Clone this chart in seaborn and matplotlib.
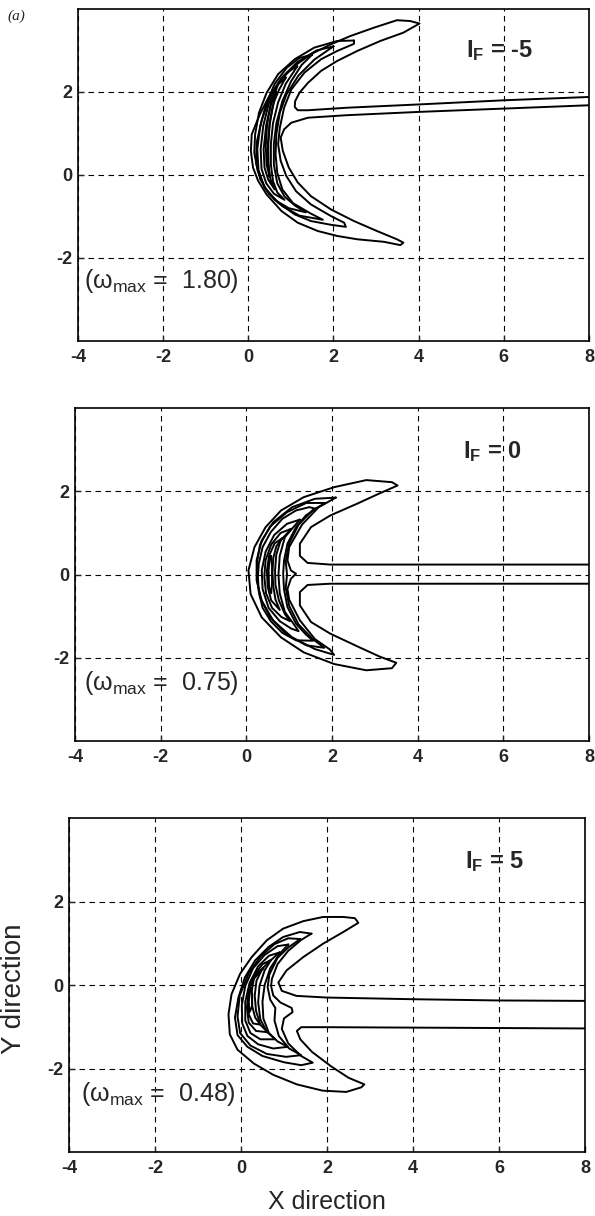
import matplotlib
matplotlib.use("Agg")
import matplotlib.pyplot as plt
import seaborn as sns

sns.set_style("ticks")
plt.rcParams['font.family'] = ['Liberation Sans', 'DejaVu Sans']
plt.rcParams['mathtext.fontset'] = 'custom'
plt.rcParams['mathtext.rm'] = 'Liberation Sans'
plt.rcParams['mathtext.it'] = 'Liberation Sans:italic'
plt.rcParams['mathtext.bf'] = 'Liberation Sans:bold'
plt.rcParams['axes.unicode_minus'] = False

# ---------------- data (contour lines, x/y in plot units) ----------------
x_ticks = [-4, -2, 0, 2, 4, 6, 8]
y_ticks = [-2, 0, 2]
lf_values = ["-5", "0", "5"]
omega_max = ["1.80", "0.75", "0.48"]

# I_F = -5
neg5_c1 = [(8.0, 1.88), (6.0, 1.80), (4.0, 1.70), (2.3, 1.62), (1.40, 1.56), (1.16, 1.56), (1.09, 1.64),
           (1.10, 1.78), (1.20, 1.98), (1.40, 2.22), (1.71, 2.51), (2.09, 2.75), (2.56, 2.99), (3.10, 3.23),
           (3.64, 3.43), (4.02, 3.65), (3.80, 3.71), (3.49, 3.73), (2.95, 3.55), (2.40, 3.35), (1.94, 3.15),
           (1.47, 2.91), (1.09, 2.63), (0.74, 2.27), (0.47, 1.86), (0.27, 1.46), (0.08, 0.98), (0.06, 0.58),
           (0.11, 0.18), (0.23, -0.14), (0.43, -0.47), (0.78, -0.87), (1.16, -1.15), (1.63, -1.35),
           (2.09, -1.47), (2.56, -1.55), (3.18, -1.61), (3.57, -1.69), (3.64, -1.63), (3.49, -1.55),
           (3.02, -1.35), (2.48, -1.11), (1.94, -0.83), (1.47, -0.51), (1.16, -0.18), (0.95, 0.18),
           (0.81, 0.58), (0.76, 0.90), (0.84, 1.10), (1.01, 1.26), (1.40, 1.38), (2.3, 1.44), (4.0, 1.52),
           (6.0, 1.60), (8.0, 1.68)]
neg5_c2 = [(2.48, 3.24), (2.09, 3.23), (1.55, 3.07), (1.09, 2.79), (0.70, 2.43), (0.43, 1.98), (0.25, 1.50),
           (0.16, 0.98), (0.14, 0.54), (0.22, 0.10), (0.39, -0.31), (0.70, -0.67), (1.09, -0.95),
           (1.47, -1.11), (1.94, -1.20), (2.29, -1.25), (2.25, -1.15), (1.94, -0.99), (1.47, -0.71),
           (1.12, -0.39), (0.89, -0.02), (0.76, 0.34), (0.70, 0.74), (0.74, 1.14), (0.84, 1.62),
           (1.01, 2.06), (1.32, 2.47), (1.71, 2.79), (2.09, 2.99), (2.48, 3.16)]
neg5_c2b = [(2.00, 3.10), (1.60, 3.00), (1.15, 2.72), (0.78, 2.34), (0.50, 1.86), (0.32, 1.34), (0.20, 0.80),
            (0.18, 0.30), (0.28, -0.10), (0.48, -0.45), (0.80, -0.75), (1.20, -0.98), (1.75, -1.08),
            (1.45, -0.92), (1.05, -0.68), (0.80, -0.35), (0.68, 0.05), (0.64, 0.50), (0.66, 1.00),
            (0.74, 1.50), (0.90, 1.95), (1.18, 2.40), (1.55, 2.78)]
neg5_c3 = [(1.50, 2.90), (1.20, 2.82), (0.90, 2.58), (0.62, 2.20), (0.42, 1.72), (0.28, 1.18), (0.21, 0.62),
           (0.24, 0.12), (0.38, -0.30), (0.62, -0.60), (0.95, -0.80), (1.35, -0.90), (1.10, -0.74),
           (0.85, -0.52), (0.68, -0.20), (0.60, 0.25), (0.60, 0.75), (0.66, 1.25), (0.80, 1.78),
           (1.00, 2.25), (1.25, 2.65)]
neg5_c4 = [(1.15, 2.62), (0.92, 2.48), (0.68, 2.18), (0.48, 1.72), (0.35, 1.18), (0.29, 0.62), (0.31, 0.15),
           (0.42, -0.20), (0.60, -0.45), (0.85, -0.60), (0.68, -0.42), (0.58, -0.15), (0.53, 0.25),
           (0.53, 0.75), (0.58, 1.25), (0.70, 1.75), (0.88, 2.20)]
neg5_c5 = [(0.88, 2.35), (0.70, 2.18), (0.55, 1.78), (0.42, 1.20), (0.36, 0.62), (0.38, 0.18), (0.47, -0.12),
           (0.62, -0.35), (0.52, -0.10), (0.47, 0.25), (0.46, 0.75), (0.50, 1.25), (0.60, 1.75), (0.72, 2.05)]
neg5_c6 = [(0.65, 2.00), (0.52, 1.70), (0.44, 1.20), (0.41, 0.70), (0.43, 0.25), (0.50, -0.05),
           (0.47, 0.30), (0.47, 0.75), (0.50, 1.20), (0.56, 1.60)]

# I_F = 0
zero_c1 = [(8.0, 0.24), (4.0, 0.24), (1.96, 0.24), (1.43, 0.28), (1.25, 0.45), (1.25, 0.74), (1.51, 1.14),
           (1.96, 1.42), (2.58, 1.70), (3.11, 1.95), (3.53, 2.14), (3.40, 2.22), (2.80, 2.27), (2.05, 2.10),
           (1.34, 1.86), (0.81, 1.54), (0.45, 1.14), (0.19, 0.66), (0.05, 0.10), (0.10, -0.47), (0.36, -1.03),
           (0.81, -1.51), (1.34, -1.87), (2.05, -2.15), (2.80, -2.30), (3.40, -2.25), (3.50, -2.12),
           (3.11, -1.97), (2.58, -1.72), (1.96, -1.42), (1.51, -1.14), (1.25, -0.74), (1.25, -0.42),
           (1.43, -0.25), (1.96, -0.22), (4.0, -0.22), (8.0, -0.22)]
zero_c2 = [(2.09, 1.85), (1.60, 1.82), (1.07, 1.62), (0.63, 1.26), (0.36, 0.82), (0.24, 0.34), (0.24, -0.14),
           (0.36, -0.63), (0.63, -1.11), (1.07, -1.51), (1.60, -1.79), (2.05, -1.93), (1.95, -1.80),
           (1.60, -1.55), (1.25, -1.10), (1.00, -0.60), (0.96, -0.35), (1.04, -0.10), (1.16, 0.02),
           (1.04, 0.10), (0.96, 0.34), (1.00, 0.66), (1.30, 1.20), (1.69, 1.62)]
zero_c2b = [(1.85, 1.72), (1.40, 1.72), (0.95, 1.50), (0.55, 1.15), (0.32, 0.72), (0.25, 0.30), (0.25, -0.12),
            (0.32, -0.55), (0.55, -1.02), (0.95, -1.45), (1.40, -1.70), (1.82, -1.76), (1.55, -1.55),
            (1.22, -1.20), (1.00, -0.75), (0.92, -0.32), (0.95, 0.00), (0.92, 0.32), (1.00, 0.75),
            (1.22, 1.20), (1.55, 1.55)]
zero_c3 = [(1.62, 1.58), (1.47, 1.62), (1.16, 1.54), (0.84, 1.34), (0.57, 1.02), (0.38, 0.66), (0.29, 0.26),
           (0.27, -0.06), (0.29, -0.40), (0.38, -0.80), (0.57, -1.12), (0.84, -1.40), (1.16, -1.58),
           (1.56, -1.59), (1.39, -1.44), (1.16, -1.18), (0.96, -0.78), (0.88, -0.36), (0.86, 0.02),
           (0.88, 0.34), (0.96, 0.74), (1.16, 1.14), (1.39, 1.42)]
zero_c4 = [(1.25, 1.32), (0.95, 1.22), (0.65, 0.95), (0.45, 0.55), (0.36, 0.10), (0.38, -0.35), (0.52, -0.80),
           (0.78, -1.12), (1.05, -1.30), (1.22, -1.36), (1.10, -1.18), (0.90, -0.90), (0.78, -0.45),
           (0.75, 0.00), (0.78, 0.45), (0.90, 0.90)]
zero_c5 = [(1.05, 1.10), (0.80, 1.00), (0.58, 0.72), (0.45, 0.35), (0.42, -0.05), (0.46, -0.45), (0.60, -0.80),
           (0.82, -1.02), (1.02, -1.12), (0.90, -0.95), (0.76, -0.62), (0.68, -0.25), (0.67, 0.10),
           (0.70, 0.48), (0.80, 0.82)]
zero_c6 = [(0.85, 0.88), (0.66, 0.75), (0.53, 0.45), (0.48, 0.08), (0.50, -0.30), (0.58, -0.62), (0.78, -0.85),
           (0.68, -0.60), (0.63, -0.28), (0.61, 0.05), (0.63, 0.40), (0.70, 0.68)]
zero_c7 = [(0.55, 0.45), (0.52, 0.10), (0.53, -0.30), (0.58, -0.45), (0.60, -0.20), (0.60, 0.20), (0.58, 0.45)]

# I_F = 5
pos5_c1 = [(8.0, -0.38), (6.0, -0.37), (4.0, -0.34), (2.0, -0.30), (1.29, -0.26), (0.95, -0.14), (0.87, 0.06),
           (1.06, 0.35), (1.45, 0.67), (1.91, 0.99), (2.38, 1.27), (2.73, 1.49), (2.65, 1.60), (2.38, 1.63),
           (1.91, 1.63), (1.45, 1.53), (0.98, 1.35), (0.60, 1.07), (0.25, 0.67), (-0.02, 0.27),
           (-0.22, -0.22), (-0.29, -0.70), (-0.26, -1.18), (-0.08, -1.55), (0.30, -1.88), (0.75, -2.15),
           (1.30, -2.38), (1.90, -2.53), (2.45, -2.56), (2.80, -2.45), (2.87, -2.38), (2.50, -2.22),
           (2.10, -1.95), (1.65, -1.60), (1.38, -1.30), (1.30, -1.10), (1.40, -1.01), (2.0, -1.01),
           (4.0, -1.02), (6.0, -1.03), (8.0, -1.04)]
pos5_c2 = [(1.64, 1.23), (1.37, 1.27), (0.98, 1.15), (0.64, 0.91), (0.33, 0.59), (0.09, 0.18), (-0.06, -0.30),
           (-0.14, -0.78), (-0.08, -1.20), (0.15, -1.48), (0.50, -1.70), (1.00, -1.85), (1.40, -1.92),
           (1.67, -1.86), (1.40, -1.70), (1.10, -1.40), (0.95, -1.05), (1.00, -0.80), (1.20, -0.65),
           (1.18, -0.55), (0.92, -0.42), (0.75, -0.25), (0.70, -0.02), (0.72, 0.15), (0.85, 0.50),
           (1.10, 0.82), (1.40, 1.08)]
pos5_c2b = [(1.38, 1.10), (1.10, 1.12), (0.78, 0.98), (0.45, 0.68), (0.18, 0.28), (-0.03, -0.25), (-0.08, -0.75),
            (-0.02, -1.15), (0.22, -1.45), (0.60, -1.65), (1.05, -1.72), (1.40, -1.68), (1.12, -1.52),
            (0.88, -1.22), (0.78, -0.85), (0.80, -0.55), (0.68, -0.35), (0.62, -0.05), (0.66, 0.25),
            (0.85, 0.65), (1.10, 0.90)]
pos5_c3 = [(1.10, 0.97), (0.85, 0.93), (0.55, 0.72), (0.28, 0.40), (0.10, -0.02), (0.02, -0.48), (0.03, -0.92),
           (0.15, -1.22), (0.40, -1.42), (0.75, -1.52), (1.09, -1.48), (0.85, -1.35), (0.65, -1.15),
           (0.52, -0.80), (0.50, -0.40), (0.55, 0.00), (0.68, 0.40), (0.90, 0.75)]
pos5_c4 = [(0.90, 0.78), (0.65, 0.70), (0.40, 0.45), (0.20, 0.05), (0.10, -0.40), (0.10, -0.85), (0.22, -1.15),
           (0.45, -1.30), (0.80, -1.30), (0.60, -1.12), (0.45, -0.82), (0.40, -0.42), (0.43, -0.02),
           (0.55, 0.35), (0.70, 0.60)]
pos5_c5 = [(0.70, 0.60), (0.50, 0.50), (0.30, 0.22), (0.17, -0.15), (0.14, -0.55), (0.18, -0.90), (0.35, -1.10),
           (0.62, -1.13), (0.45, -0.95), (0.35, -0.62), (0.32, -0.25), (0.36, 0.10), (0.50, 0.40)]
pos5_c6 = [(0.52, 0.40), (0.35, 0.28), (0.22, 0.00), (0.17, -0.35), (0.18, -0.70), (0.28, -0.92), (0.45, -0.95),
           (0.33, -0.78), (0.26, -0.50), (0.25, -0.15), (0.30, 0.15)]
pos5_c7 = [(0.22, -0.05), (0.18, -0.40), (0.20, -0.65), (0.26, -0.50), (0.26, -0.20)]

panels = [
    ([neg5_c1], [neg5_c2, neg5_c2b, neg5_c3, neg5_c4, neg5_c5, neg5_c6]),
    ([zero_c1], [zero_c2, zero_c2b, zero_c3, zero_c4, zero_c5, zero_c6, zero_c7]),
    ([pos5_c1], [pos5_c2, pos5_c2b, pos5_c3, pos5_c4, pos5_c5, pos5_c6, pos5_c7]),
]

# axes boxes in figure fractions (left, bottom, width, height)
boxes = [(0.131, 0.7196, 0.859, 0.273),
         (0.126, 0.3906, 0.864, 0.2738),
         (0.116, 0.0526, 0.867, 0.2747)]
lf_pos = [(5.1, 3.0), (5.05, 2.95), (5.2, 2.95)]
om_pos = [(-3.86, -2.55), (-3.8, -2.6), (-3.72, -2.6)]

fig = plt.figure(figsize=(5.95, 12.16), dpi=100)

def draw_line(ax, pts, closed):
    if closed:
        pts = pts + [pts[0]]
    xs = [p[0] for p in pts]
    ys = [p[1] for p in pts]
    sns.lineplot(x=xs, y=ys, sort=False, estimator=None, color="black", linewidth=1.4, ax=ax)

for i, (open_lines, closed_lines) in enumerate(panels):
    ax = fig.add_axes(boxes[i])
    for pts in open_lines:
        draw_line(ax, pts, False)
    for pts in closed_lines:
        draw_line(ax, pts, True)

    ax.set_xlim(-4, 8)
    ax.set_ylim(-4, 4)
    ax.set_xticks(x_ticks)
    ax.set_yticks(y_ticks)
    ax.grid(True, color="black", linestyle=(0, (5, 4)), linewidth=0.8)
    ax.set_axisbelow(True)
    ax.tick_params(direction="in", length=4, width=1, labelsize=13)
    ax.tick_params(axis="x", pad=6)
    ax.tick_params(axis="y", pad=4)
    for lab in ax.get_xticklabels() + ax.get_yticklabels():
        lab.set_fontweight("bold")
    for sp in ax.spines.values():
        sp.set_linewidth(1.2)
        sp.set_color("black")

    ax.text(lf_pos[i][0], lf_pos[i][1], r"$\mathbf{I}_\mathbf{F}$ = " + lf_values[i],
            fontsize=17, fontweight="bold", ha="left", va="center")
    ax.text(om_pos[i][0], om_pos[i][1], r"($\mathrm{\omega}_{\mathrm{max}}$ =  " + omega_max[i] + ")",
            fontsize=18, ha="left", va="center")

    if i == 2:
        ax.set_xlabel("X direction", fontsize=18)
        ax.set_ylabel("Y direction", fontsize=20)
        ax.xaxis.set_label_coords(0.5, -0.115)
        ax.yaxis.set_label_coords(-0.082, 0.49)
    else:
        ax.set_xlabel("")
        ax.set_ylabel("")

fig.text(0.027, 0.987, "(a)", fontsize=11, fontstyle="italic", family="Liberation Serif",
         ha="center", va="center")

fig.savefig("out.png", dpi=100)
